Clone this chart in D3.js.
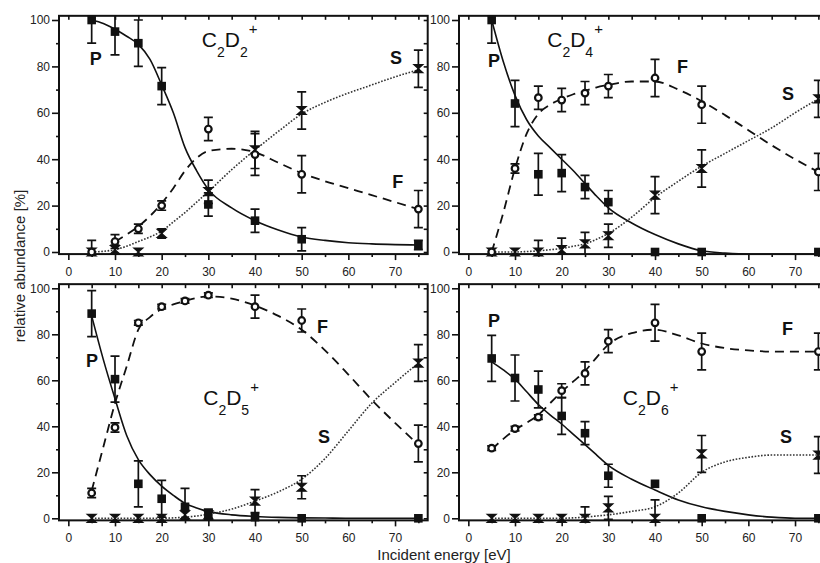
<!DOCTYPE html>
<html><head><meta charset="utf-8">
<script src="https://cdn.jsdelivr.net/npm/d3@7"></script>
<style>body{margin:0;background:#fff;overflow:hidden}svg{display:block}text{font-family:"Liberation Sans",Arial,sans-serif}</style>
</head><body>
<svg id="c" width="820" height="563"></svg>
<script>
// ---------- data ----------
const energy = [5, 10, 15, 20, 25, 30, 40, 50, 75];
const fitEnergy = [5, 7.5, 10, 12.5, 15, 17.5, 20, 22.5, 25, 27.5, 30, 35, 40, 45, 50, 55, 60, 65, 70, 75];
const xTicks = [0, 10, 20, 30, 40, 50, 60, 70];
const yTicks = [0, 20, 40, 60, 80, 100];

// C2D2+
const c2d2_P = [100, 95, 90, 71.5, null, 20.5, 13.5, 5.5, 3];
const c2d2_Perr = [10, 10, 10, 8, null, 5, 5, 5, 2];
const c2d2_F = [0, 4.5, 10, 20, null, 53, 42, 33.5, 18.5];
const c2d2_Ferr = [5, 3, 2, 2, null, 5, 9, 8, 8];
const c2d2_S = [0, 1, 0, 8, null, 26, 44, 61, 79];
const c2d2_Serr = [0, 2, 0, 2, null, 5, 8, 8, 8];
const c2d2_fitP = [100, 98.5, 96, 93, 89.5, 83, 72, 60, 45, 35, 27, 19, 13.5, 9.5, 6.5, 5, 4, 3.5, 3.2, 3];
const c2d2_fitF = [null, null, 4.5, 7.5, 11, 15.5, 21, 27.5, 35, 40.5, 43.5, 44.5, 43, 38.5, 34, 30.5, 27.5, 24.5, 21.5, 18.5];
const c2d2_fitS = [0, 0.3, 1, 2.5, 4.5, 6.5, 9, 13, 17, 21.5, 26, 35.5, 44, 52, 59.5, 64.5, 68.5, 72, 75.5, 78.5];

// C2D4+
const c2d4_P = [100, 64, 33.5, 34, 28, 21.5, 0, 0, 0];
const c2d4_Perr = [10, 10, 9, 8, 5, 5, 0, 0, 0];
const c2d4_F = [0, 36, 66.5, 65.5, 68.5, 71.5, 75, 63.5, 34.5];
const c2d4_Ferr = [0, 2, 5, 5, 5, 5, 8, 8, 8];
const c2d4_S = [0, 0, 0, 1, 3.5, 7, 24.5, 36, 66];
const c2d4_Serr = [0, 0, 5, 5, 5, 5, 8, 8, 8];
const c2d4_fitP = [100, 82, 67.5, 57, 50, 45, 40, 35, 29.5, 24, 19, 12.5, 7.5, 3.5, 0.5, -0.5, -1, -1, -1, -1];
const c2d4_fitF = [0, 17, 36, 51, 59.5, 63.5, 66, 68, 69.5, 71, 72, 73.5, 73.5, 70, 65, 59, 52.5, 46, 40, 34.5];
const c2d4_fitS = [0, 0, 0, 0.2, 0.5, 1, 1.5, 2.5, 3.5, 5.5, 8, 15, 23.5, 30.5, 37, 42.5, 48, 53.5, 60, 66];

// C2D5+
const c2d5_P = [89, 60.5, 15, 8.5, 5, 2, 0.5, 0, 0];
const c2d5_Perr = [10, 10, 10, 8, 8, 2, 0, 0, 0];
const c2d5_F = [11, 39.5, 85, 92, 94.5, 97, 92, 86, 32.5];
const c2d5_Ferr = [2, 2, 1, 1, 1, 1, 5, 5, 8];
const c2d5_S = [0, 0, 0, 0, 1.5, 1.5, 7.5, 13.5, 67.5];
const c2d5_Serr = [0, 0, 0, 0, 2, 2, 5, 5, 8];
const c2d5_fitP = [88, 69, 52, 36, 25.5, 19, 14, 10, 6.5, 4.5, 3, 1.5, 0.8, 0.4, 0.2, 0.1, 0, 0, 0, 0];
const c2d5_fitF = [12, 31, 50, 66, 82, 87.5, 91, 93, 94.5, 95.8, 96.5, 95.5, 92.5, 88, 82, 73, 62.5, 51.5, 41.5, 32];
const c2d5_fitS = [0, 0, 0, 0, 0, 0, 0, 0.2, 0.5, 1, 1.8, 4, 7.5, 11.5, 17, 26, 38, 50, 59, 67.5];

// C2D6+
const c2d6_P = [69.5, 61, 56, 44.5, 37, 18.5, 15, 0, 0];
const c2d6_Perr = [10, 10, 8, 8, 5, 5, 0, 0, 0];
const c2d6_F = [30.5, 39, 44, 55.5, 63, 77, 85, 72.5, 72.5];
const c2d6_Ferr = [1, 1, 1, 3, 5, 5, 8, 8, 8];
const c2d6_S = [0, 0, 0, 0, 0, 4.5, 0, 28, 27.5];
const c2d6_Serr = [0, 0, 0, 0, 5, 5, 8, 8, 8];
const c2d6_fitP = [68, 64.5, 60.5, 55, 49.5, 45, 41, 36.5, 32, 27.5, 23, 17, 12.3, 8, 5, 3, 1.5, 0.5, 0, 0];
const c2d6_fitF = [30, 34.5, 38.5, 41.5, 45, 50, 55, 59.5, 64, 70, 75.5, 80.5, 82, 79.5, 76, 74, 73, 72.5, 72.5, 72.5];
const c2d6_fitS = [0, 0, 0, 0, 0, 0, 0, 0.2, 0.5, 1, 1.5, 3, 5, 11, 20, 24.5, 26.5, 27.5, 27.5, 27.5];

// ---------- layout ----------
const panels = [
  {n: "2", P: c2d2_P, Pe: c2d2_Perr, F: c2d2_F, Fe: c2d2_Ferr, S: c2d2_S, Se: c2d2_Serr, fP: c2d2_fitP, fF: c2d2_fitF, fS: c2d2_fitS,
   xr: [59, 427.7], yr: [252, 20], lab: {P: [4.6, 80.6], F: [69.4, 27.6], S: [68.9, 81], T: [28.6, 88.4]}},
  {n: "4", P: c2d4_P, Pe: c2d4_Perr, F: c2d4_F, Fe: c2d4_Ferr, S: c2d4_S, Se: c2d4_Serr, fP: c2d4_fitP, fF: c2d4_fitF, fS: c2d4_fitS,
   xr: [459, 827.7], yr: [252, 20], lab: {P: [4.2, 79.7], F: [44.7, 77], S: [67.2, 65.5], T: [16.9, 88.4]}},
  {n: "5", P: c2d5_P, Pe: c2d5_Perr, F: c2d5_F, Fe: c2d5_Ferr, S: c2d5_S, Se: c2d5_Serr, fP: c2d5_fitP, fF: c2d5_fitF, fS: c2d5_fitS,
   xr: [59, 427.7], yr: [518.3, 288.3], lab: {P: [3.8, 65.8], F: [53.3, 80.6], S: [53.5, 32.7], T: [28.9, 49.3]}},
  {n: "6", P: c2d6_P, Pe: c2d6_Perr, F: c2d6_F, Fe: c2d6_Ferr, S: c2d6_S, Se: c2d6_Serr, fP: c2d6_fitP, fF: c2d6_fitF, fS: c2d6_fitS,
   xr: [459, 827.7], yr: [518.3, 288.3], lab: {P: [4.2, 83.2], F: [67.2, 79.7], S: [66.8, 32.7], T: [33.1, 49.3]}}
];

const svg = d3.select("#c");
const ink = "#111";

panels.forEach((p, i) => {
  const x = d3.scaleLinear().domain([-2, 77]).range(p.xr);
  const y = d3.scaleLinear().domain([0, 100]).range(p.yr);
  const x0 = x(-2), x1 = x(77);
  const yTop = y(101.8), yBot = y(-0.9);
  const g = svg.append("g");
  const cid = "clip" + i;
  svg.append("clipPath").attr("id", cid).append("rect")
    .attr("x", x0).attr("y", yTop).attr("width", x1 - x0).attr("height", yBot - yTop);

  // ticks
  const tickStyle = sel => { sel.select(".domain").remove(); sel.selectAll("line").attr("stroke", ink).attr("stroke-width", 1.6);
    sel.selectAll("text").attr("fill", "#222").attr("font-size", 12).attr("font-family", '"Liberation Sans",Arial,sans-serif'); };
  g.append("g").attr("transform", `translate(${x0},0)`)
    .call(d3.axisLeft(y).tickValues(yTicks).tickSize(7).tickPadding(2)).call(tickStyle);
  g.append("g").attr("transform", `translate(${x0},0)`)
    .call(d3.axisLeft(y).tickValues([10, 30, 50, 70, 90]).tickSize(3).tickFormat("")).call(tickStyle);
  g.append("g").attr("transform", `translate(0,${yBot})`)
    .call(d3.axisBottom(x).tickValues(xTicks).tickSize(6).tickPadding(7)).call(tickStyle);
  g.append("g").attr("transform", `translate(0,${yBot})`)
    .call(d3.axisBottom(x).tickValues([5, 15, 25, 35, 45, 55, 65, 75]).tickSize(3).tickFormat("")).call(tickStyle);
  g.append("g").attr("transform", `translate(0,${yTop})`)
    .call(d3.axisBottom(x).tickValues(d3.range(0, 80, 5)).tickSize(4).tickFormat("")).call(tickStyle);
  g.append("g").attr("transform", `translate(${x1},0)`)
    .call(d3.axisLeft(y).tickValues(d3.range(0, 101, 10)).tickSize(4).tickFormat("")).call(tickStyle);

  // frame
  g.append("rect").attr("x", x0).attr("y", yTop).attr("width", x1 - x0).attr("height", yBot - yTop)
    .attr("fill", "none").attr("stroke", ink).attr("stroke-width", 2);

  // fit curves
  const line = d3.line().defined(d => d[1] != null).x(d => x(d[0])).y(d => y(d[1])).curve(d3.curveMonotoneX);
  const curves = g.append("g").attr("clip-path", `url(#${cid})`);
  curves.append("path").attr("d", line(fitEnergy.map((e, k) => [e, p.fP[k]])))
    .attr("fill", "none").attr("stroke", ink).attr("stroke-width", 1.6);
  curves.append("path").attr("d", line(fitEnergy.map((e, k) => [e, p.fF[k]])))
    .attr("fill", "none").attr("stroke", ink).attr("stroke-width", 1.8).attr("stroke-dasharray", "9,6");
  curves.append("path").attr("d", line(fitEnergy.map((e, k) => [e, p.fS[k]])))
    .attr("fill", "none").attr("stroke", "#333").attr("stroke-width", 1.6).attr("stroke-dasharray", "1.6,1.6");

  // error bars
  const eb = g.append("g").attr("clip-path", `url(#${cid})`).attr("stroke", ink).attr("stroke-width", 1.7);
  [[p.P, p.Pe], [p.F, p.Fe], [p.S, p.Se]].forEach(([v, e]) => {
    energy.forEach((en, k) => {
      if (v[k] == null || !e[k]) return;
      const cx = x(en), ya = y(v[k] + e[k]), yb = y(v[k] - e[k]);
      eb.append("line").attr("x1", cx).attr("x2", cx).attr("y1", ya).attr("y2", yb);
      eb.append("line").attr("x1", cx - 4.5).attr("x2", cx + 4.5).attr("y1", ya).attr("y2", ya);
      eb.append("line").attr("x1", cx - 4.5).attr("x2", cx + 4.5).attr("y1", yb).attr("y2", yb);
    });
  });

  // markers
  const mk = g.append("g");
  energy.forEach((en, k) => {
    if (p.S[k] != null) mk.append("path")
      .attr("d", "M-4.5,-4 L4.5,-4 L-4.5,4 L4.5,4 Z")
      .attr("transform", `translate(${x(en)},${y(p.S[k])})`)
      .attr("fill", ink).attr("stroke", ink).attr("stroke-width", 1.2).attr("stroke-linejoin", "miter");
    if (p.P[k] != null) mk.append("rect")
      .attr("x", x(en) - 4.3).attr("y", y(p.P[k]) - 4.3).attr("width", 8.6).attr("height", 8.6).attr("fill", ink);
    if (p.F[k] != null) mk.append("circle")
      .attr("cx", x(en)).attr("cy", y(p.F[k])).attr("r", 3.3)
      .attr("fill", "#fff").attr("stroke", ink).attr("stroke-width", 2.2);
  });

  // labels
  ["P", "F", "S"].forEach(s => {
    g.append("text").attr("x", x(p.lab[s][0])).attr("y", y(p.lab[s][1]))
      .attr("font-size", 18).attr("font-weight", "bold").attr("fill", ink).text(s);
  });
  const t = g.append("text").attr("x", x(p.lab.T[0])).attr("y", y(p.lab.T[1]))
    .attr("font-size", 21).attr("fill", ink);
  t.append("tspan").text("C");
  t.append("tspan").attr("font-size", 14).attr("dy", 10).text("2");
  t.append("tspan").attr("dy", -10).text("D");
  t.append("tspan").attr("font-size", 14).attr("dy", 10).text(p.n);
  t.append("tspan").attr("font-size", 15).attr("dy", -23).attr("dx", 1).text("+");
});

// axis titles
svg.append("text").attr("transform", "translate(25,266) rotate(-90)").attr("text-anchor", "middle")
  .attr("font-size", 15).attr("fill", "#222").text("relative abundance [%]");
svg.append("text").attr("x", 444).attr("y", 559.5).attr("text-anchor", "middle")
  .attr("font-size", 15).attr("fill", "#222").text("Incident energy [eV]");
</script>
</body></html>
